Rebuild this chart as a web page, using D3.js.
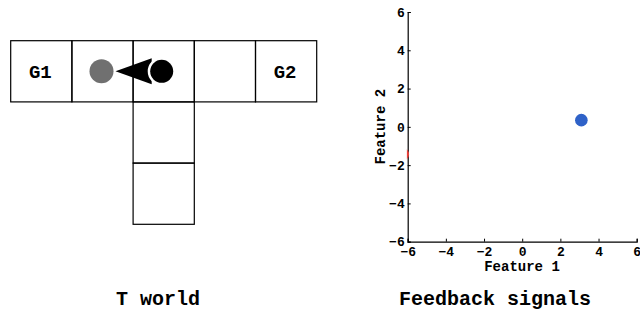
<!DOCTYPE html>
<html>
<head>
<meta charset="utf-8">
<script src="https://cdn.jsdelivr.net/npm/d3@7"></script>
<style>
  body { margin: 0; background: #fff; }
  text { font-family: "Liberation Mono", "DejaVu Sans Mono", monospace; font-weight: bold; fill: #000; }
</style>
</head>
<body>
<svg id="chart" width="640" height="311"></svg>
<script>
// T-maze cells [col,row] and labels
var cells = [[0,0],[1,0],[2,0],[3,0],[4,0],[2,1],[2,2]];
var cellLabels = [{col:0, row:0, text:"G1"}, {col:4, row:0, text:"G2"}];
var prevPos = {col:1, row:0};
var agentPos = {col:2, row:0};

// feedback signal points
var fbX = [3.1, -6.26];
var fbY = [0.35, -1.43];
var fbColor = ["#2f62c8", "#e8413c"];
var xTicks = [-6, -4, -2, 0, 2, 4, 6];
var yTicks = [-6, -4, -2, 0, 2, 4, 6];

var svg = d3.select("#chart");

// ---- T world ----
var col = d3.scaleLinear().domain([0, 5]).range([10.7, 316.7]);
var row = d3.scaleLinear().domain([0, 3]).range([40.7, 224.3]);
var cw = col(1) - col(0), ch = row(1) - row(0);

var world = svg.append("g");
world.selectAll("rect.cell").data(cells).join("rect")
  .attr("class", "cell")
  .attr("x", d => col(d[0])).attr("y", d => row(d[1]))
  .attr("width", cw).attr("height", ch)
  .attr("fill", "none").attr("stroke", "#000").attr("stroke-width", 1.2);

world.selectAll("text.lab").data(cellLabels).join("text")
  .attr("class", "lab")
  .attr("x", d => col(d.col + 0.5) - 1).attr("y", d => row(d.row + 0.5))
  .attr("text-anchor", "middle").attr("dy", "0.36em")
  .style("font-size", "19px").text(d => d.text);

var px = col(prevPos.col + 0.5) - 1, py = row(prevPos.row + 0.5);
var ax = col(agentPos.col + 0.5) - 2, ay = row(agentPos.row + 0.5);
world.append("circle").attr("cx", px).attr("cy", py).attr("r", 12).attr("fill", "#707070");
// arrow head pointing from agent to previous position
world.append("path")
  .attr("d", "M" + (px + 14) + "," + py + "L" + (ax - 10) + "," + (py - 13) + "L" + (ax - 10) + "," + (py + 13) + "Z")
  .attr("fill", "#000");
world.append("circle").attr("cx", ax).attr("cy", ay).attr("r", 12)
  .attr("fill", "#000").attr("stroke", "#fff").attr("stroke-width", 4);
world.append("circle").attr("cx", ax).attr("cy", ay).attr("r", 11.5).attr("fill", "#000");

svg.append("text").attr("x", 158).attr("y", 305).attr("text-anchor", "middle")
  .style("font-size", "20px").text("T world");

// ---- Feedback signals ----
var x = d3.scaleLinear().domain([-6, 6]).range([407.7, 636.7]);
var y = d3.scaleLinear().domain([-6, 6]).range([241.7, 12]);

svg.append("defs").append("clipPath").attr("id", "plotclip")
  .append("rect").attr("x", x(-6) - 0.8).attr("y", y(6)).attr("width", x(6) - x(-6) + 1).attr("height", y(-6) - y(6));

var pts = fbX.map((v, i) => ({x: v, y: fbY[i], c: fbColor[i]}));

var xAxis = svg.append("g").attr("transform", "translate(0," + y(-6) + ")")
  .call(d3.axisBottom(x).tickValues(xTicks).tickSize(-3).tickPadding(5).tickFormat(d3.format("")));
var yAxis = svg.append("g").attr("transform", "translate(" + x(-6) + ",0)")
  .call(d3.axisLeft(y).tickValues(yTicks).tickSize(-3).tickPadding(3).tickFormat(d3.format("")));
[xAxis, yAxis].forEach(function (g) {
  g.select(".domain").attr("stroke", "#000").attr("stroke-width", 1.2);
  g.selectAll(".tick line").attr("stroke", "#000");
  g.selectAll(".tick text").style("font-size", "13px").style("font-family", "'Liberation Mono', monospace").attr("fill", "#000");
});

svg.append("g").attr("clip-path", "url(#plotclip)")
  .selectAll("circle").data(pts).join("circle")
  .attr("cx", d => x(d.x)).attr("cy", d => y(d.y)).attr("r", 6.3).attr("fill", d => d.c);

svg.append("text").attr("x", 522).attr("y", 271).attr("text-anchor", "middle")
  .style("font-size", "14px").text("Feature 1");
svg.append("text").attr("transform", "translate(385,126.7) rotate(-90)").attr("text-anchor", "middle")
  .style("font-size", "14px").text("Feature 2");

svg.append("text").attr("x", 495).attr("y", 305).attr("text-anchor", "middle")
  .style("font-size", "20px").text("Feedback signals");
</script>
</body>
</html>
